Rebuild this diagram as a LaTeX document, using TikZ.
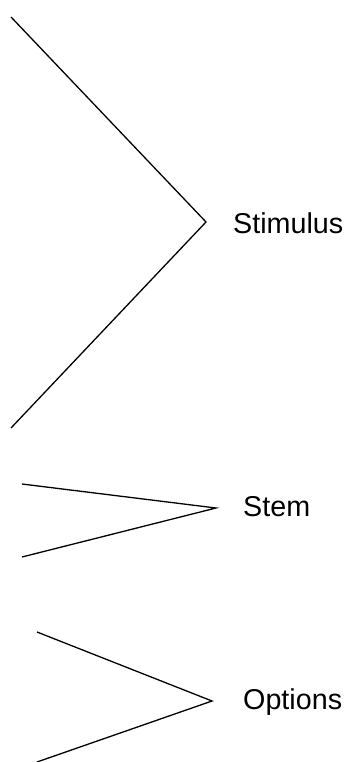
\documentclass[tikz,border=0pt]{standalone}
\usepackage{fontspec}
\setmainfont{Liberation Sans}
\begin{document}
\begin{tikzpicture}[x=1pt,y=-1pt,
  chev/.style={draw=black,line width=1.3pt,line join=miter},
  lbl/.style={anchor=base west,inner sep=0pt,font=\fontsize{28.7}{32}\selectfont}]
\useasboundingbox (0,0) rectangle (347,762);
% chevron 1
\coordinate (t1) at (11,17);
\coordinate (a1) at (206,222);
\coordinate (b1) at (11,428);
\draw[chev] (t1) -- (a1) -- (b1);
\node[lbl] (stim) at (233,233) {Stimulus};
% chevron 2
\coordinate (t2) at (22,484);
\coordinate (a2) at (216,508);
\coordinate (b2) at (22,557);
\draw[chev] (t2) -- (a2) -- (b2);
\node[lbl] (stem) at (243,516) {Stem};
% chevron 3
\coordinate (t3) at (37,632);
\coordinate (a3) at (212,701);
\coordinate (b3) at (37,762);
\draw[chev] (t3) -- (a3) -- (b3);
\node[lbl] (opt) at (243,709) {Options};
\end{tikzpicture}
\end{document}
